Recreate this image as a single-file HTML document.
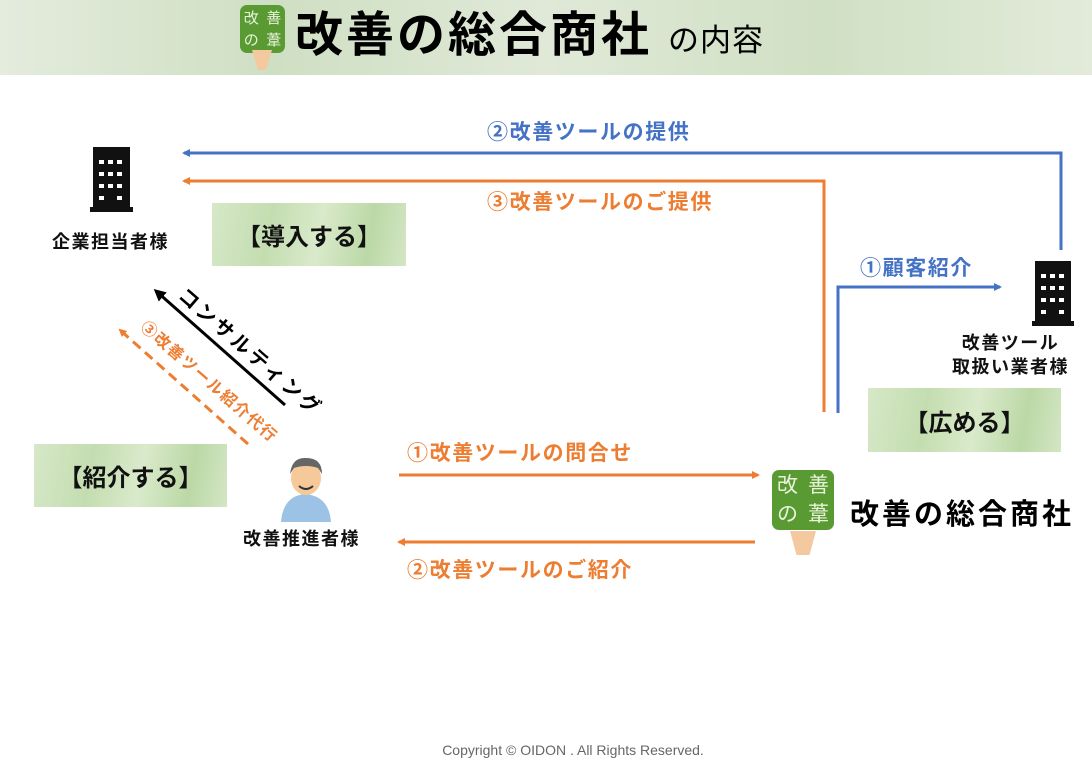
<!DOCTYPE html>
<html><head><meta charset="utf-8"><style>
body{margin:0;width:1092px;height:766px;background:#fff;position:relative;overflow:hidden;font-family:"Liberation Sans","Noto Sans CJK JP",sans-serif}
.a{position:absolute;white-space:nowrap}
.g{position:absolute;background:linear-gradient(100deg,#d6e8c8,#c4ddb0 30%,#d9eacb 55%,#bcd8a6 80%,#d3e6c4);display:flex;align-items:center;justify-content:center;font-size:24px;font-weight:bold;color:#111}
.lg{position:absolute;background:#5a9a32;border-radius:7px;color:#e8f3dc;font-size:17px;line-height:22px;display:grid;grid-template-columns:1fr 1fr;text-align:center;padding-top:4px}
.b{font-weight:bold}
.l{font-size:21px;letter-spacing:1.6px;font-weight:bold}
.s{font-size:18px;letter-spacing:1.5px;font-weight:bold;color:#111}
</style></head><body>
<div class="a" style="left:0;top:0;width:1092px;height:75px;background:linear-gradient(90deg,#e4ecdd,#cfdfc3 25%,#e0e9d8 50%,#d0e0c4 75%,#e2ebda)"></div>
<div class="lg" style="left:240px;top:5px;width:45px;height:44px;font-size:15px;line-height:20px"><span>改</span><span>善</span><span>の</span><span>葦</span></div>
<div class="a" style="left:252px;top:50px;width:20px;height:20px;background:#f5c9a0;clip-path:polygon(0 0,100% 0,70% 100%,30% 100%)"></div>
<div class="a b" style="left:295px;top:8px;font-size:48px;line-height:56px;color:#000;letter-spacing:3px">改善の総合商社</div>
<div class="a" style="left:668px;top:22px;font-size:31px;line-height:38px;color:#000;letter-spacing:1px">の内容</div>

<svg class="a" style="left:0;top:0" width="1092" height="766">
<defs>
<marker id="mb" markerWidth="8" markerHeight="8" refX="6" refY="4" orient="auto" markerUnits="userSpaceOnUse"><path d="M0,0L8,4L0,8z" fill="#4472c4"/></marker>
<marker id="mo" markerWidth="8" markerHeight="8" refX="6" refY="4" orient="auto" markerUnits="userSpaceOnUse"><path d="M0,0L8,4L0,8z" fill="#ed7d31"/></marker>
<marker id="mk" markerWidth="12" markerHeight="12" refX="9" refY="6" orient="auto" markerUnits="userSpaceOnUse"><path d="M0,0L12,6L0,12z" fill="#000"/></marker>
</defs>
<polyline points="1061,250 1061,153 184,153" fill="none" stroke="#4472c4" stroke-width="3" marker-end="url(#mb)"/>
<polyline points="824,412 824,181 184,181" fill="none" stroke="#ed7d31" stroke-width="3" marker-end="url(#mo)"/>
<polyline points="838,413 838,287 1000,287" fill="none" stroke="#4472c4" stroke-width="3" marker-end="url(#mb)"/>
<line x1="399" y1="475" x2="758" y2="475" stroke="#ed7d31" stroke-width="3" marker-end="url(#mo)"/>
<line x1="755" y1="542" x2="399" y2="542" stroke="#ed7d31" stroke-width="3" marker-end="url(#mo)"/>
<line x1="285" y1="405" x2="156" y2="291" stroke="#000" stroke-width="3" marker-end="url(#mk)"/>
<line x1="248" y1="444" x2="120" y2="330" stroke="#ed7d31" stroke-width="3" stroke-dasharray="10,6" marker-end="url(#mo)"/>
<g fill="#111"><rect x="93" y="147" width="37" height="62"/><rect x="90" y="207" width="43" height="5"/></g>
<g fill="#fff"><rect x="99" y="160" width="5" height="4"/><rect x="108" y="160" width="5" height="4"/><rect x="117" y="160" width="5" height="4"/><rect x="99" y="172" width="5" height="4"/><rect x="108" y="172" width="5" height="4"/><rect x="117" y="172" width="5" height="4"/><rect x="99" y="184" width="5" height="4"/><rect x="108" y="184" width="5" height="4"/><rect x="117" y="184" width="5" height="4"/><rect x="99" y="196" width="5" height="4"/><rect x="117" y="196" width="5" height="4"/></g>
<g fill="#111"><rect x="1035" y="261" width="36" height="62"/><rect x="1032" y="321" width="42" height="5"/></g>
<g fill="#fff"><rect x="1041" y="274" width="5" height="4"/><rect x="1050" y="274" width="5" height="4"/><rect x="1059" y="274" width="5" height="4"/><rect x="1041" y="286" width="5" height="4"/><rect x="1050" y="286" width="5" height="4"/><rect x="1059" y="286" width="5" height="4"/><rect x="1041" y="298" width="5" height="4"/><rect x="1050" y="298" width="5" height="4"/><rect x="1059" y="298" width="5" height="4"/><rect x="1041" y="310" width="5" height="4"/><rect x="1059" y="310" width="5" height="4"/></g>
<path d="M281,522 Q283,496 305,494 Q329,496 331,522z" fill="#9cc2e5"/>
<ellipse cx="306" cy="478" rx="15" ry="17" fill="#f6c99a"/>
<path d="M290,474 Q292,457 306,458 Q322,458 322,474 L318,468 Q306,464 294,468z" fill="#666"/>
<path d="M299,486 Q306,492 313,486" stroke="#333" stroke-width="2" fill="none"/>
</svg>
<div class="a l" style="left:487px;top:116px;color:#4472c4">②改善ツールの提供</div>
<div class="a l" style="left:487px;top:186px;color:#ed7d31">③改善ツールのご提供</div>
<div class="a l" style="left:860px;top:252px;color:#4472c4">①顧客紹介</div>
<div class="a l" style="left:407px;top:437px;color:#ed7d31">①改善ツールの問合せ</div>
<div class="a l" style="left:407px;top:554px;color:#ed7d31">②改善ツールのご紹介</div>
<div class="a s" style="left:52px;top:228px">企業担当者様</div>
<div class="a s" style="left:243px;top:525px">改善推進者様</div>
<div class="a s" style="left:952px;top:331px;line-height:24px;text-align:center">改善ツール<br>取扱い業者様</div>
<div class="g" style="left:212px;top:203px;width:194px;height:63px">【導入する】</div>
<div class="g" style="left:868px;top:388px;width:193px;height:64px">【広める】</div>
<div class="g" style="left:34px;top:444px;width:193px;height:63px">【紹介する】</div>
<div class="a b" style="font-size:20px;letter-spacing:3px;color:#000;transform:rotate(41deg);transform-origin:0 0;left:192px;top:280px">コンサルティング</div>
<div class="a b" style="left:152px;top:314px;font-size:16px;letter-spacing:1.5px;color:#ed7d31;transform:rotate(41deg);transform-origin:0 0">③改善ツール紹介代行</div>
<div class="lg" style="left:772px;top:470px;width:62px;height:57px;font-size:21px;line-height:26px;padding-top:3px"><span>改</span><span>善</span><span>の</span><span>葦</span></div>
<div class="a" style="left:790px;top:531px;width:26px;height:24px;background:#f5c9a0;clip-path:polygon(0 0,100% 0,75% 100%,25% 100%)"></div>
<div class="a b" style="left:850px;top:491px;font-size:29px;letter-spacing:3px;color:#000">改善の総合商社</div>
<div class="a" style="left:0;width:1146px;top:742px;text-align:center;font-size:14px;color:#666">Copyright © OIDON . All Rights Reserved.</div>
</body></html>
